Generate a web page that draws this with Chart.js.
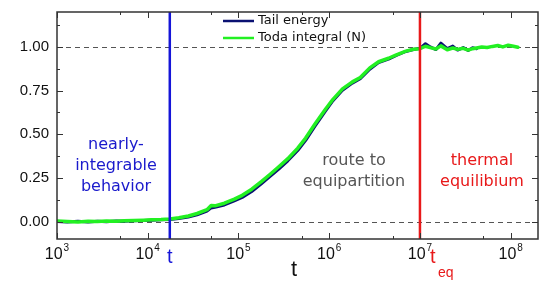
<!DOCTYPE html>
<html>
<head>
<meta charset="utf-8">
<script src="https://cdn.jsdelivr.net/npm/chart.js@4"></script>
<style>
  html, body { margin: 0; padding: 0; background: #fff; }
  canvas { display: block; }
</style>
</head>
<body>
<canvas id="chart" width="558" height="286"></canvas>
<script>
// time values (log axis) and the two normalised series
var times = [1.0e3, 1.3e3, 1.7e3, 2.2e3, 2.8e3, 3.5e3, 4.5e3, 5.5e3, 7.0e3, 9.0e3,
             1.1e4, 1.4e4, 1.75e4, 2.2e4, 2.8e4, 3.5e4, 4.5e4, 5.0e4, 5.5e4, 7.0e4, 9.0e4,
             1.1e5, 1.4e5, 1.8e5, 2.2e5, 2.8e5, 3.5e5, 4.5e5, 5.5e5, 7.0e5, 9.0e5,
             1.1e6, 1.4e6, 1.8e6, 2.2e6, 2.8e6, 3.5e6, 4.5e6, 5.5e6, 7.0e6, 8.5e6,
             1.0e7, 1.15e7, 1.3e7, 1.5e7, 1.7e7, 2.0e7, 2.3e7, 2.6e7, 3.0e7, 3.4e7,
             3.8e7, 4.2e7, 4.8e7, 5.5e7, 6.3e7, 7.2e7, 8.2e7, 9.4e7, 1.07e8, 1.2e8];
var tailEnergy = [0.000, -0.003, 0.002, -0.002, 0.001, -0.001, 0.003, 0.002, 0.004, 0.006,
                  0.008, 0.010, 0.012, 0.018, 0.026, 0.038, 0.060, 0.078, 0.082, 0.095, 0.118,
                  0.138, 0.172, 0.218, 0.256, 0.302, 0.348, 0.407, 0.465, 0.548, 0.630,
                  0.692, 0.752, 0.793, 0.818, 0.872, 0.910, 0.930, 0.952, 0.974, 0.985,
                  0.992, 1.018, 1.000, 0.985, 1.022, 0.990, 1.005, 0.982, 0.996, 0.980,
                  0.995, 0.990, null, null, null, null, null, null, null, null];
var todaIntegral = [0.003, 0.000, -0.002, 0.002, 0.000, 0.003, 0.001, 0.004, 0.006, 0.008,
                    0.010, 0.012, 0.015, 0.022, 0.032, 0.046, 0.068, 0.092, 0.090, 0.105, 0.128,
                    0.150, 0.185, 0.230, 0.268, 0.315, 0.360, 0.420, 0.478, 0.560, 0.640,
                    0.700, 0.760, 0.800, 0.825, 0.880, 0.915, 0.935, 0.955, 0.976, 0.987,
                    0.990, 1.004, 0.996, 0.988, 1.006, 0.984, 0.994, 0.986, 0.992, 0.982,
                    0.990, 0.994, 1.000, 0.997, 1.003, 1.008, 1.000, 1.010, 1.004, 0.998];
var yTicks = [0, 0.25, 0.5, 0.75, 1.0];
var xDecades = [3, 4, 5, 6, 7, 8];
var tIntegrable = 1.75e4;
var tEquilibrium = 1.0e7;

function pairs(ys) {
  return times.map(function(t, i) { return {x: t, y: ys[i]}; });
}

var FRAME = '#333';

var decorPlugin = {
  id: 'decor',
  beforeDatasetsDraw: function(chart) {
    var ctx = chart.ctx, a = chart.chartArea, ys = chart.scales.y;
    ctx.save();
    ctx.strokeStyle = '#555';
    ctx.lineWidth = 1;
    ctx.setLineDash([5, 4]);
    [0, 1].forEach(function(v) {
      var py = Math.round(ys.getPixelForValue(v)) + 0.5;
      ctx.beginPath(); ctx.moveTo(a.left, py); ctx.lineTo(a.right, py); ctx.stroke();
    });
    ctx.restore();
  },
  afterDatasetsDraw: function(chart) {
    var ctx = chart.ctx, a = chart.chartArea, xs = chart.scales.x, ys = chart.scales.y;
    ctx.save();
    // vertical markers
    [[tIntegrable, '#1515d8'], [tEquilibrium, '#e8191a']].forEach(function(m) {
      var px = xs.getPixelForValue(m[0]);
      ctx.strokeStyle = m[1]; ctx.lineWidth = 2.5;
      ctx.beginPath(); ctx.moveTo(px, a.top); ctx.lineTo(px, a.bottom); ctx.stroke();
    });

    // frame
    ctx.strokeStyle = FRAME; ctx.lineWidth = 1.5;
    ctx.strokeRect(a.left, a.top, a.right - a.left, a.bottom - a.top);

    // y ticks
    ctx.lineWidth = 1;
    for (var v = -0.125; v <= 1.2; v += 0.125) {
      if (v < -0.1) continue;
      var py = Math.round(ys.getPixelForValue(v)) + 0.5;
      var major = Math.abs(v * 4 - Math.round(v * 4)) < 1e-6;
      var len = major ? 6 : 3;
      ctx.beginPath();
      ctx.moveTo(a.left, py); ctx.lineTo(a.left + len, py);
      ctx.moveTo(a.right, py); ctx.lineTo(a.right - len, py);
      ctx.stroke();
    }
    // x ticks: decades and 5x
    xDecades.forEach(function(d) {
      [[Math.pow(10, d), 6], [5 * Math.pow(10, d), 3]].forEach(function(tk) {
        if (tk[0] > xs.max) return;
        var px = Math.round(xs.getPixelForValue(tk[0])) + 0.5;
        ctx.beginPath();
        ctx.moveTo(px, a.bottom); ctx.lineTo(px, a.bottom - tk[1]);
        ctx.moveTo(px, a.top); ctx.lineTo(px, a.top + tk[1]);
        ctx.stroke();
      });
    });

    // y tick labels
    ctx.fillStyle = '#111';
    ctx.font = '15px "Liberation Sans", Arial, sans-serif';
    ctx.textAlign = 'right'; ctx.textBaseline = 'middle';
    yTicks.forEach(function(v) {
      ctx.fillText(v.toFixed(2), a.left - 8, ys.getPixelForValue(v));
    });
    // x tick labels 10^n
    xDecades.forEach(function(d) {
      var px = xs.getPixelForValue(Math.pow(10, d));
      ctx.font = '16px "Liberation Sans", Arial, sans-serif';
      var w1 = ctx.measureText('10').width;
      ctx.font = '10px "Liberation Sans", Arial, sans-serif';
      var w2 = ctx.measureText(String(d)).width;
      var x0 = px - (w1 + w2 + 1) / 2;
      ctx.textAlign = 'left'; ctx.textBaseline = 'alphabetic';
      ctx.font = '16px "Liberation Sans", Arial, sans-serif';
      ctx.fillText('10', x0, a.bottom + 20);
      ctx.font = '10px "Liberation Sans", Arial, sans-serif';
      ctx.fillText(String(d), x0 + w1 + 1, a.bottom + 12);
    });

    // axis title and marker labels
    ctx.textAlign = 'center'; ctx.textBaseline = 'middle';
    ctx.font = '22px "Liberation Sans", Arial, sans-serif';
    ctx.fillStyle = '#111';
    ctx.fillText('t', 294, a.bottom + 31);
    ctx.font = '20px "Liberation Sans", Arial, sans-serif';
    ctx.fillStyle = '#1515d8';
    ctx.fillText('t', xs.getPixelForValue(tIntegrable), a.bottom + 18);
    var rx = xs.getPixelForValue(tEquilibrium);
    ctx.fillStyle = '#e8191a';
    ctx.textAlign = 'left';
    ctx.fillText('t', rx + 10, a.bottom + 18);
    ctx.font = '14px "Liberation Sans", Arial, sans-serif';
    ctx.fillText('eq', rx + 18, a.bottom + 34);

    // region annotations
    ctx.textAlign = 'center';
    ctx.font = '16px "DejaVu Sans", Verdana, sans-serif';
    ctx.fillStyle = '#1a1acc';
    ['nearly-', 'integrable', 'behavior'].forEach(function(s, i) {
      ctx.fillText(s, 116, 145 + i * 21);
    });
    ctx.fillStyle = '#555';
    ['route to', 'equipartition'].forEach(function(s, i) {
      ctx.fillText(s, 354, 161 + i * 21);
    });
    ctx.fillStyle = '#e8191a';
    ['thermal', 'equilibium'].forEach(function(s, i) {
      ctx.fillText(s, 482, 161 + i * 21);
    });

    // legend
    var items = [['Tail energy', '#0a1172'], ['Toda integral (N)', '#22f022']];
    ctx.font = '13px "DejaVu Sans", Verdana, sans-serif';
    ctx.textAlign = 'left';
    items.forEach(function(it, i) {
      var ly = 21 + i * 17;
      ctx.strokeStyle = it[1]; ctx.lineWidth = 2.5;
      ctx.beginPath(); ctx.moveTo(223, ly); ctx.lineTo(254, ly); ctx.stroke();
      ctx.fillStyle = '#111';
      ctx.fillText(it[0], 258, ly);
    });
    ctx.restore();
  }
};

new Chart(document.getElementById('chart'), {
  type: 'line',
  data: {
    datasets: [{
      label: 'Tail energy',
      data: pairs(tailEnergy),
      borderColor: '#0a1172',
      borderWidth: 3,
      spanGaps: false,
      order: 2
    }, {
      label: 'Toda integral (N)',
      data: pairs(todaIntegral),
      borderColor: '#22f022',
      borderWidth: 3.5,
      order: 1
    }]
  },
  options: {
    responsive: false,
    animation: false,
    devicePixelRatio: 1,
    layout: { padding: { left: 57, right: 20, top: 12, bottom: 47 } },
    elements: {
      point: { radius: 0 },
      line: { tension: 0, borderJoinStyle: 'round', borderCapStyle: 'round' }
    },
    plugins: { legend: { display: false }, tooltip: { enabled: false } },
    scales: {
      x: { type: 'logarithmic', min: 1e3, max: 2e8, display: false },
      y: { type: 'linear', min: -0.1, max: 1.2, display: false }
    }
  },
  plugins: [decorPlugin]
});
</script>
</body>
</html>
